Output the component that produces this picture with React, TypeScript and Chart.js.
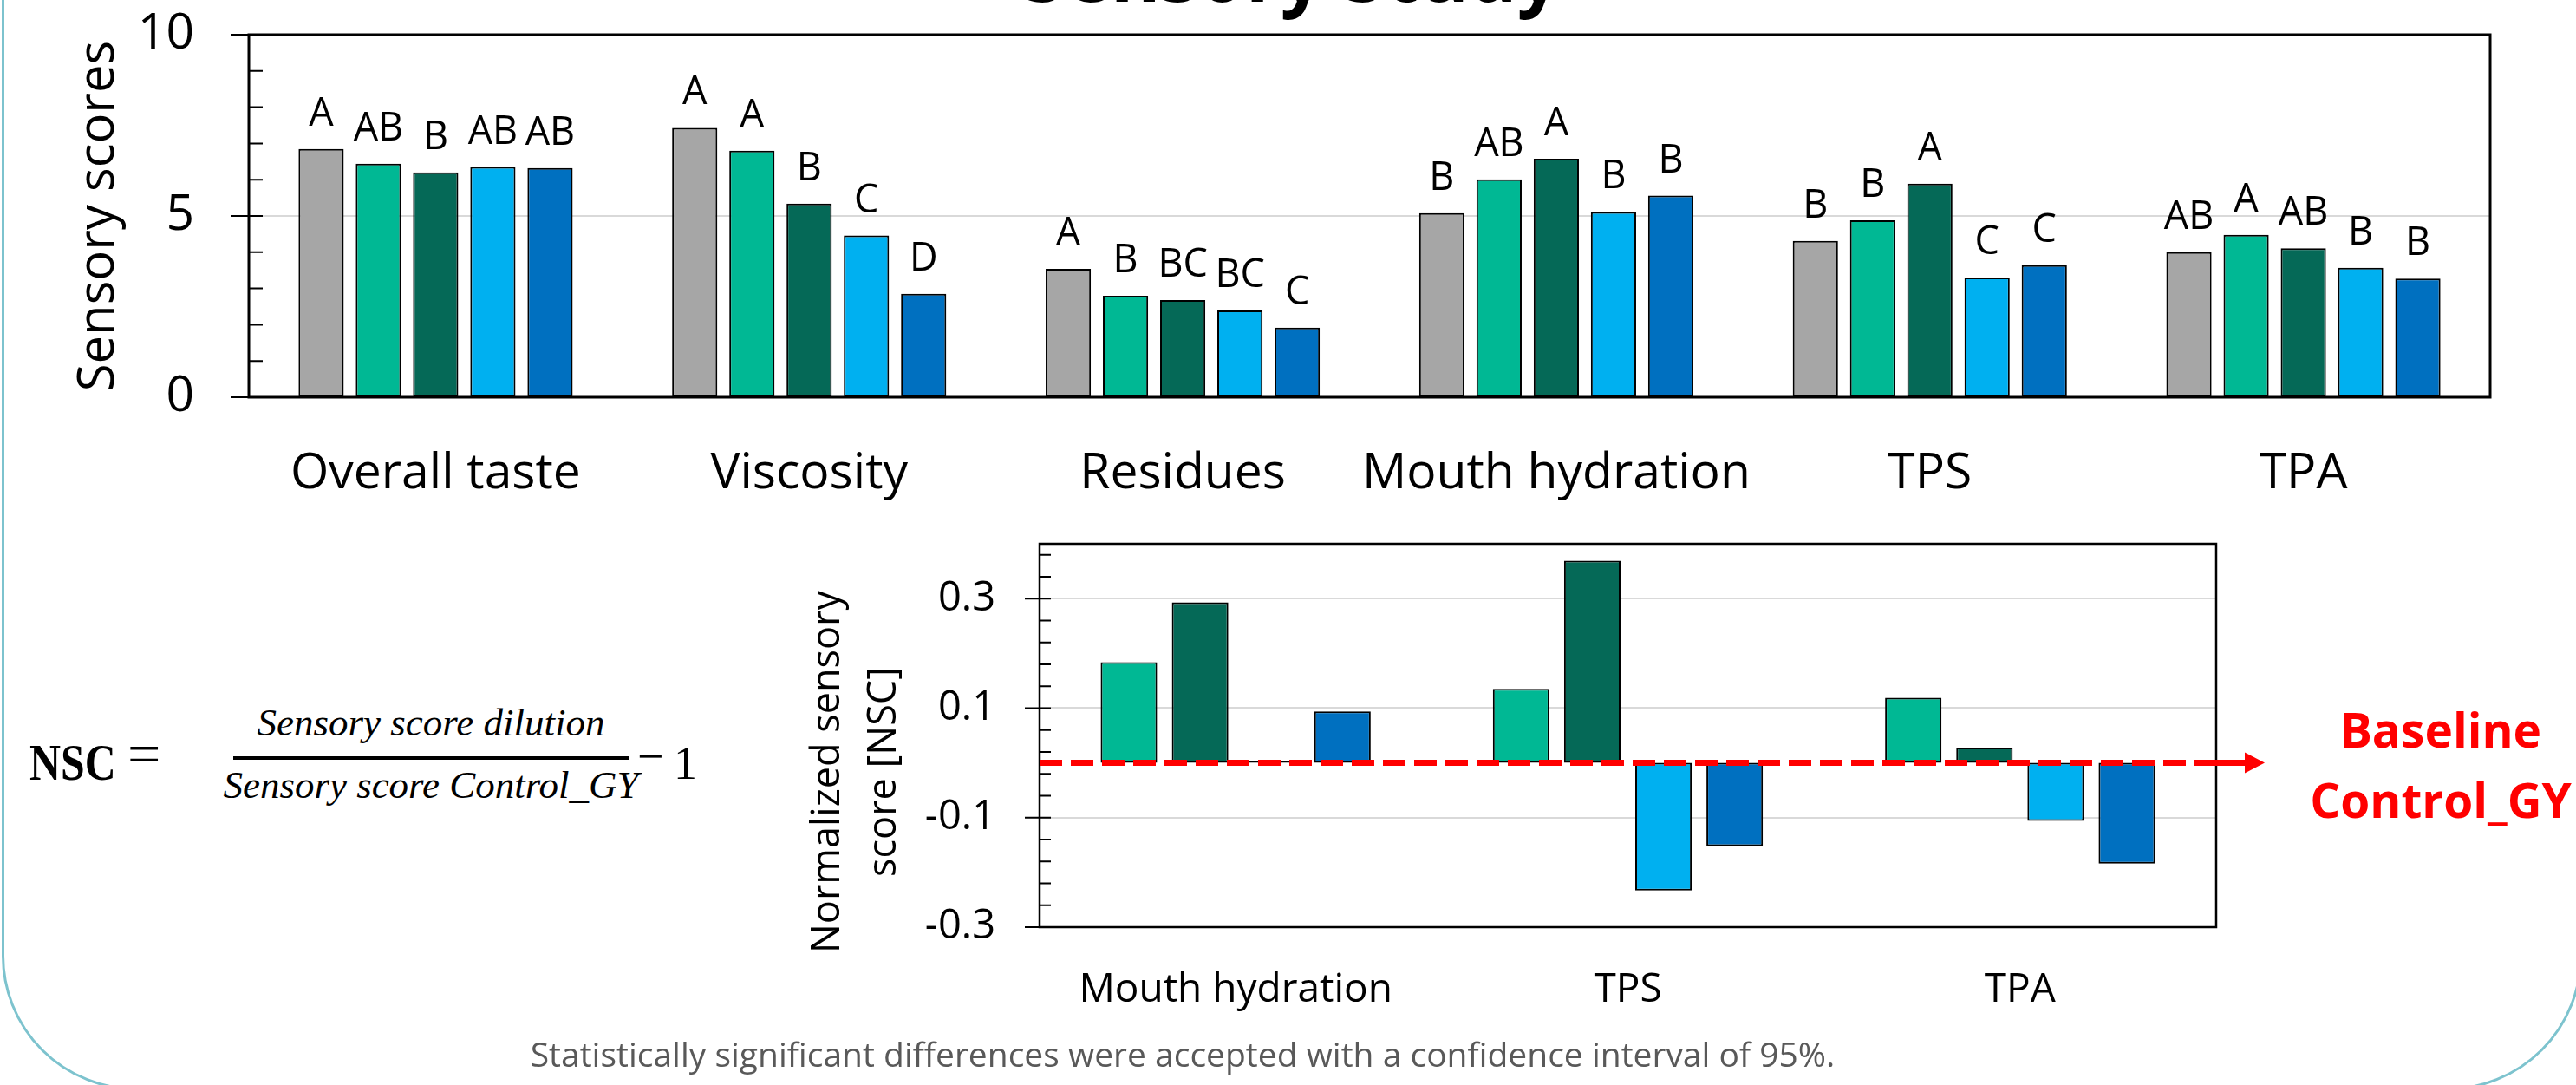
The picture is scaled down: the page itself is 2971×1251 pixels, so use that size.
import React, { useEffect, useRef } from 'react';
import { Chart, registerables } from 'chart.js';

Chart.register(...registerables);

const FONT = "'Open Sans', 'Noto Sans', sans-serif";
const SERIF = "'Liberation Serif', 'DejaVu Serif', serif";

// ---------- Top chart: sensory scores ----------
const TOP_CATEGORIES = ['Overall taste', 'Viscosity', 'Residues', 'Mouth hydration', 'TPS', 'TPA'];
const SERIES_NAMES = ['Control_GY', 'Sample 2', 'Sample 3', 'Sample 4', 'Sample 5'];
const SERIES_COLORS = ['#A6A6A6', '#00B894', '#056957', '#00B0F0', '#0070C0'];

const SCORES_CONTROL = [6.85, 7.43, 3.54, 5.08, 4.31, 4.0];
const SCORES_S2 = [6.44, 6.8, 2.8, 6.01, 4.88, 4.48];
const SCORES_S3 = [6.2, 5.34, 2.68, 6.58, 5.89, 4.11];
const SCORES_S4 = [6.35, 4.46, 2.39, 5.11, 3.3, 3.57];
const SCORES_S5 = [6.32, 2.85, 1.92, 5.56, 3.64, 3.27];

const LETTERS_CONTROL = ['A', 'A', 'A', 'B', 'B', 'AB'];
const LETTERS_S2 = ['AB', 'A', 'B', 'AB', 'B', 'A'];
const LETTERS_S3 = ['B', 'B', 'BC', 'A', 'A', 'AB'];
const LETTERS_S4 = ['AB', 'C', 'BC', 'B', 'C', 'B'];
const LETTERS_S5 = ['AB', 'D', 'C', 'B', 'C', 'B'];

const TOP_Y_MIN = 0;
const TOP_Y_MAX = 10;
const TOP_Y_TICKS = [0, 5, 10];
const TOP_Y_MINOR_STEP = 1;
const TOP_GRID_VALUES = [5];

// ---------- Bottom chart: normalized sensory score ----------
const NSC_CATEGORIES = ['Mouth hydration', 'TPS', 'TPA'];
const NSC_COLORS = ['#00B894', '#056957', '#00B0F0', '#0070C0'];
const NSC_S2 = [0.184, 0.135, 0.119];
const NSC_S3 = [0.293, 0.369, 0.028];
const NSC_S4 = [0.004, -0.233, -0.106];
const NSC_S5 = [0.094, -0.152, -0.184];

const NSC_Y_MIN = -0.3;
const NSC_Y_MAX = 0.4;
const NSC_Y_TICKS = [-0.3, -0.1, 0.1, 0.3];
const NSC_Y_TICK_LABELS = ['-0.3', '-0.1', '0.1', '0.3'];
const NSC_Y_MINOR_STEP = 0.04;
const NSC_GRID_VALUES = [-0.1, 0.1, 0.3];
const BASELINE_VALUE = 0;

const TOP_SCORES = [SCORES_CONTROL, SCORES_S2, SCORES_S3, SCORES_S4, SCORES_S5];
const TOP_LETTERS = [LETTERS_CONTROL, LETTERS_S2, LETTERS_S3, LETTERS_S4, LETTERS_S5];
const NSC_VALUES = [NSC_S2, NSC_S3, NSC_S4, NSC_S5];

function framePlugin(id: string, o: any) {
  return {
    id,
    afterDatasetsDraw(chart: any) {
      const { ctx, chartArea: a } = chart;
      const y = chart.scales.y;
      ctx.save();
      ctx.strokeStyle = '#000';
      ctx.lineWidth = o.frameWidth;
      ctx.strokeRect(a.left, a.top, a.right - a.left, a.bottom - a.top);
      ctx.lineWidth = o.tickWidth;
      ctx.beginPath();
      for (let k = 0; ; k++) {
        const v = o.min + k * o.minorStep;
        if (v > o.max + 1e-9) break;
        const p = y.getPixelForValue(v);
        ctx.moveTo(a.left, p);
        ctx.lineTo(a.left + o.inLen, p);
      }
      o.major.forEach((v: number) => {
        const p = y.getPixelForValue(v);
        ctx.moveTo(a.left - o.outLen, p);
        ctx.lineTo(a.left + o.inLen, p);
      });
      ctx.stroke();
      ctx.restore();
    },
  };
}

const lettersPlugin = {
  id: 'letters',
  afterDatasetsDraw(chart: any) {
    const { ctx } = chart;
    ctx.save();
    ctx.font = `45px ${FONT}`;
    ctx.fillStyle = '#000';
    ctx.textAlign = 'center';
    ctx.textBaseline = 'alphabetic';
    TOP_LETTERS.forEach((letters, i) => {
      const meta = chart.getDatasetMeta(i);
      meta.data.forEach((bar: any, j: number) => {
        ctx.fillText(letters[j], bar.x, bar.y - 27);
      });
    });
    ctx.restore();
  },
};

const baselinePlugin = {
  id: 'baselineArrow',
  afterDatasetsDraw(chart: any) {
    const { ctx, chartArea: a } = chart;
    const p = chart.scales.y.getPixelForValue(BASELINE_VALUE);
    ctx.save();
    ctx.strokeStyle = '#FF0000';
    ctx.fillStyle = '#FF0000';
    ctx.lineWidth = 7;
    ctx.setLineDash([26, 10]);
    ctx.beginPath();
    ctx.moveTo(a.left, p);
    ctx.lineTo(a.right, p);
    ctx.stroke();
    ctx.setLineDash([]);
    ctx.beginPath();
    ctx.moveTo(a.right, p);
    ctx.lineTo(a.right + 36, p);
    ctx.stroke();
    ctx.beginPath();
    ctx.moveTo(a.right + 33, p - 12);
    ctx.lineTo(a.right + 56, p);
    ctx.lineTo(a.right + 33, p + 12);
    ctx.closePath();
    ctx.fill();
    ctx.restore();
  },
};

const fitY = (w: number) => (s: any) => {
  s.width = w;
  s.paddingTop = 0;
  s.paddingBottom = 0;
};
const fitX = (h: number) => (s: any) => {
  s.height = h;
  s.paddingLeft = 0;
  s.paddingRight = 0;
};

function topConfig(): any {
  return {
    type: 'bar',
    data: {
      labels: TOP_CATEGORIES,
      datasets: TOP_SCORES.map((d, i) => ({
        label: SERIES_NAMES[i],
        data: d,
        backgroundColor: SERIES_COLORS[i],
        borderColor: '#000',
        borderWidth: 2,
        borderSkipped: false,
        categoryPercentage: 0.766,
        barPercentage: 0.79,
      })),
    },
    options: {
      responsive: false,
      animation: false,
      events: [],
      layout: { padding: { top: 40, right: 99, left: 0, bottom: 0 } },
      plugins: { legend: { display: false }, tooltip: { enabled: false }, title: { display: false } },
      scales: {
        x: {
          grid: { display: false },
          border: { display: false },
          ticks: {
            font: { family: FONT, size: 57 },
            color: '#000',
            padding: 47,
            maxRotation: 0,
            minRotation: 0,
            autoSkip: false,
          },
          afterFit: fitX(162),
        },
        y: {
          min: TOP_Y_MIN,
          max: TOP_Y_MAX,
          afterBuildTicks: (s: any) => { s.ticks = TOP_Y_TICKS.map((v) => ({ value: v })); },
          grid: {
            drawTicks: false,
            lineWidth: 2,
            color: (c: any) => (c.tick && TOP_GRID_VALUES.includes(c.tick.value) ? '#D9D9D9' : 'rgba(0,0,0,0)'),
          },
          border: { display: false },
          ticks: { font: { family: FONT, size: 57 }, color: '#000', padding: 63 },
          title: {
            display: true,
            text: 'Sensory scores',
            color: '#000',
            font: { family: FONT, size: 58 },
            padding: { top: 80, bottom: 0 },
          },
          afterFit: fitY(287),
        },
      },
    },
    plugins: [
      lettersPlugin,
      framePlugin('topFrame', {
        frameWidth: 3, tickWidth: 2, min: TOP_Y_MIN, max: TOP_Y_MAX, minorStep: TOP_Y_MINOR_STEP,
        major: TOP_Y_TICKS, outLen: 21, inLen: 16,
      }),
    ],
  };
}

function bottomConfig(): any {
  return {
    type: 'bar',
    data: {
      labels: NSC_CATEGORIES,
      datasets: NSC_VALUES.map((d, i) => ({
        label: SERIES_NAMES[i + 1],
        data: d,
        backgroundColor: NSC_COLORS[i],
        borderColor: '#000',
        borderWidth: 2,
        borderSkipped: false,
        categoryPercentage: 0.726,
        barPercentage: 0.793,
      })),
    },
    options: {
      responsive: false,
      animation: false,
      events: [],
      layout: { padding: { top: 47, right: 144, left: 0, bottom: 0 } },
      plugins: { legend: { display: false }, tooltip: { enabled: false }, title: { display: false } },
      scales: {
        x: {
          grid: { display: false },
          border: { display: false },
          ticks: {
            font: { family: FONT, size: 46 },
            color: '#000',
            padding: 37,
            maxRotation: 0,
            minRotation: 0,
            autoSkip: false,
          },
          afterFit: fitX(131),
        },
        y: {
          min: NSC_Y_MIN,
          max: NSC_Y_MAX,
          afterBuildTicks: (s: any) => { s.ticks = NSC_Y_TICKS.map((v) => ({ value: v })); },
          grid: {
            drawTicks: false,
            lineWidth: 2,
            color: (c: any) => (c.tick && NSC_GRID_VALUES.includes(c.tick.value) ? '#D9D9D9' : 'rgba(0,0,0,0)'),
          },
          border: { display: false },
          ticks: {
            font: { family: FONT, size: 47 },
            color: '#000',
            padding: 51,
            callback: (v: number) => {
              const i = NSC_Y_TICKS.indexOf(v);
              return i >= 0 ? NSC_Y_TICK_LABELS[i] : String(v);
            },
          },
          afterFit: fitY(299),
        },
      },
    },
    plugins: [
      framePlugin('bottomFrame', {
        frameWidth: 2.5, tickWidth: 2, min: NSC_Y_MIN, max: NSC_Y_MAX, minorStep: NSC_Y_MINOR_STEP,
        major: NSC_Y_TICKS, outLen: 17, inLen: 13,
      }),
      baselinePlugin,
    ],
  };
}

// Text placed with its alphabetic baseline at `base` (line-height 0 trick)
function Txt(props: {
  x: number; base: number; size: number; k: number; family: string; weight?: number | string;
  italic?: boolean; color?: string; center?: boolean; scaleX?: number; children: React.ReactNode;
}) {
  const { x, base, size, k, family, weight, italic, color, center, scaleX, children } = props;
  const tf: string[] = [];
  if (center) tf.push('translateX(-50%)');
  if (scaleX) tf.push(`scaleX(${scaleX})`);
  return (
    <div
      style={{
        position: 'absolute',
        left: x,
        top: base - k * size,
        lineHeight: 0,
        fontSize: size,
        fontFamily: family,
        fontWeight: weight ?? 400,
        fontStyle: italic ? 'italic' : 'normal',
        color: color ?? '#000',
        whiteSpace: 'nowrap',
        transform: tf.length ? tf.join(' ') : undefined,
        transformOrigin: '0 0',
      }}
    >
      {children}
    </div>
  );
}

const KO = 0.388; // Open Sans (ascent - descent) / 2
const KS = 0.3375; // Liberation Serif

export default function App() {
  const topRef = useRef<HTMLCanvasElement>(null);
  const botRef = useRef<HTMLCanvasElement>(null);

  useEffect(() => {
    const c1 = new Chart(topRef.current as HTMLCanvasElement, topConfig());
    const c2 = new Chart(botRef.current as HTMLCanvasElement, bottomConfig());
    return () => {
      c1.destroy();
      c2.destroy();
    };
  }, []);

  return (
    <div
      style={{
        position: 'absolute', left: 0, top: 0, width: 2971, height: 1251,
        overflow: 'hidden', background: '#fff',
      }}
    >
      {/* rounded panel border */}
      <div
        style={{
          position: 'absolute', left: 2, top: -300, width: 2976, height: 1557,
          border: '3px solid #7DC3CE', borderRadius: 155, boxSizing: 'border-box',
        }}
      />

      {/* main title (cut at top) */}
      <Txt x={1490} base={2} size={88} k={KO} family={FONT} weight={700} center>Sensory Study</Txt>

      <canvas ref={topRef} width={2971} height={620} style={{ position: 'absolute', left: 0, top: 0 }} />
      <canvas ref={botRef} width={1800} height={620} style={{ position: 'absolute', left: 900, top: 580 }} />

      {/* bottom chart y-axis title (two lines, rotated) */}
      <div
        style={{
          position: 'absolute', left: 968, top: 890, width: 0, height: 0,
          transform: 'rotate(-90deg)', transformOrigin: '0 0',
        }}
      >
        <Txt x={0} base={0} size={45} k={KO} family={FONT} center>Normalized sensory</Txt>
        <Txt x={0} base={65} size={45} k={KO} family={FONT} center>score [NSC]</Txt>
      </div>

      {/* formula */}
      <Txt x={34} base={899} size={60} k={KS} family={SERIF} weight={700} scaleX={0.83}>NSC</Txt>
      <Txt x={147} base={892} size={68} k={KS} family={SERIF}>=</Txt>
      <Txt x={497} base={848} size={45} k={KS} family={SERIF} italic center>Sensory score dilution</Txt>
      <div style={{ position: 'absolute', left: 269, top: 872, width: 457, height: 4, background: '#000' }} />
      <Txt x={497} base={920} size={45} k={KS} family={SERIF} italic center>Sensory score Control_GY</Txt>
      <Txt x={735} base={890} size={54} k={KS} family={SERIF}>{'\u2212'}</Txt>
      <Txt x={777} base={898} size={54} k={KS} family={SERIF}>1</Txt>

      {/* baseline annotation */}
      <Txt x={2815} base={862} size={55} k={KO} family={FONT} weight={700} color="#FF0000" center>Baseline</Txt>
      <Txt x={2815} base={943} size={55} k={KO} family={FONT} weight={700} color="#FF0000" center>Control_GY</Txt>

      {/* footnote */}
      <Txt x={1364} base={1230} size={39} k={KO} family={FONT} color="#595959" center>
        Statistically significant differences were accepted with a confidence interval of 95%.
      </Txt>
    </div>
  );
}
